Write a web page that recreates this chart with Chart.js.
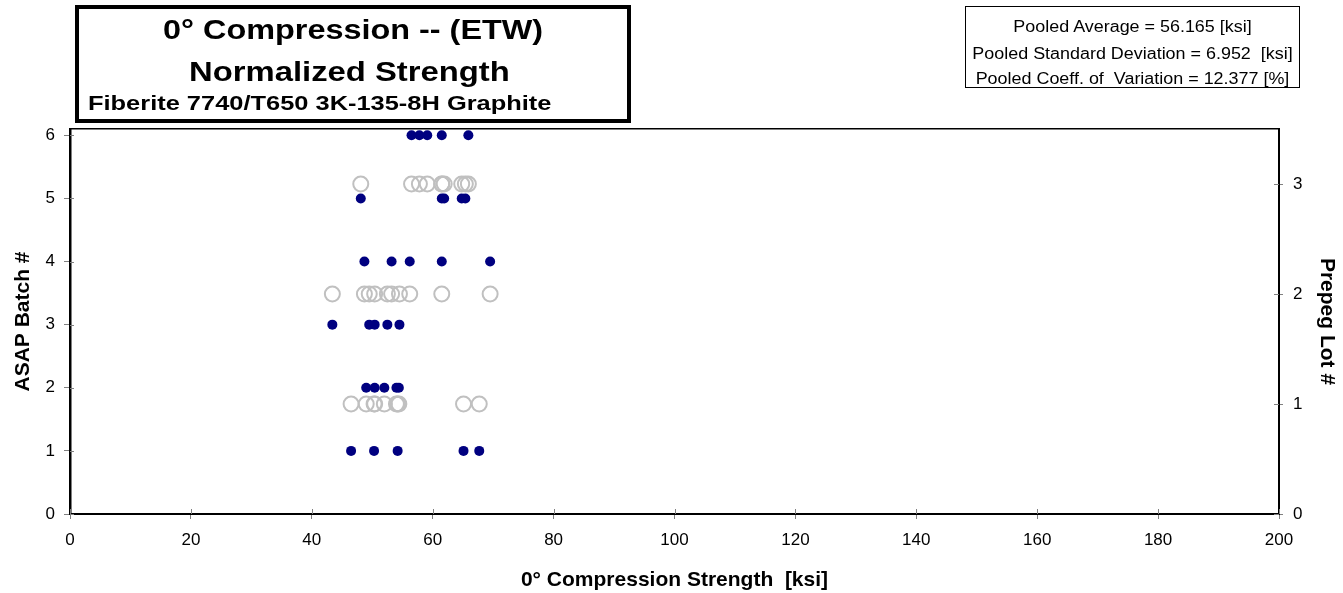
<!DOCTYPE html>
<html lang="en">
  <head>
    <meta charset="UTF-8" />
    <title>0° Compression -- (ETW) Normalized Strength</title>
    <style>
      body {
        margin: 0;
        font-family: "Liberation Sans", Arial, sans-serif;
        background: #fff;
      }

      .wrap {
        position: relative;
        width: 1343px;
        height: 593px;
        overflow: hidden;
      }

      canvas {
        position: absolute;
        left: 0;
        top: 0;
      }

      .box {
        position: absolute;
        box-sizing: border-box;
        border: 1px solid #000;
      }

      .title-box {
        left: 75px;
        top: 5px;
        width: 556px;
        height: 118px;
        border-width: 4px;
      }

      .stats-box {
        left: 965px;
        top: 6px;
        width: 335px;
        height: 82px;
      }

      .txt {
        position: absolute;
        white-space: pre;
        line-height: 1;
        color: #000;
        transform-origin: 0 0;
      }

      .bold {
        font-weight: bold;
      }

      .stat {
        left: 965px;
        width: 335px;
        text-align: center;
        font-size: 16px;
        transform: scaleX(1.12);
        transform-origin: 50% 0;
      }
    </style>
    <script src="https://cdn.jsdelivr.net/npm/chart.js"></script>
  </head>
  <body>
    <div class="wrap">
      <canvas id="strengthChart" width="1343" height="593"></canvas>
      <div class="box title-box"></div>
      <div class="txt bold" style="left: 163px; top: 17px; font-size: 27px; transform: scaleX(1.2)">0° Compression -- (ETW)</div>
      <div class="txt bold" style="left: 189px; top: 59px; font-size: 27px; transform: scaleX(1.215)">Normalized Strength</div>
      <div class="txt bold" style="left: 88px; top: 93px; font-size: 20.5px; transform: scaleX(1.24)">Fiberite 7740/T650 3K-135-8H Graphite</div>

      <div class="box stats-box"></div>
      <div class="txt stat" style="top: 19px">Pooled Average = 56.165 [ksi]</div>
      <div class="txt stat" style="top: 46px">Pooled Standard Deviation = 6.952  [ksi]</div>
      <div class="txt stat" style="top: 71px">Pooled Coeff. of  Variation = 12.377 [%]</div>
    </div>

    <script>
      // strengths [ksi] per ASAP batch
      const batch1 = [46.5, 50.3, 54.2, 65.1, 67.7];
      const batch2 = [49.0, 50.4, 52.0, 54.0, 54.4];
      const batch3 = [43.4, 49.5, 50.4, 52.5, 54.5];
      const batch4 = [48.7, 53.2, 56.2, 61.5, 69.5];
      const batch5 = [48.1, 61.5, 61.9, 64.8, 65.4];
      const batch6 = [56.5, 57.8, 59.1, 61.5, 65.9];

      const batches = [batch1, batch2, batch3, batch4, batch5, batch6];
      // prepreg lot -> the batches made from it
      const lotBatches = [
        [1, 2],
        [3, 4],
        [5, 6],
      ];

      const batchTicks = [0, 1, 2, 3, 4, 5, 6];
      const lotTicks = [0, 1, 2, 3];

      const batchPoints = [];
      batches.forEach((vals, i) => {
        vals.forEach((v) => batchPoints.push({ x: v, y: i + 1 }));
      });

      const lotPoints = [];
      lotBatches.forEach((bs, i) => {
        bs.forEach((b) => {
          batches[b - 1].forEach((v) => lotPoints.push({ x: v, y: i + 1 }));
        });
      });

      Chart.defaults.font.family = "'Liberation Sans', Arial, sans-serif";
      Chart.defaults.font.size = 17;
      Chart.defaults.color = "#000";

      const tickColor = "#808080";
      const axisTitleFont = { size: 21, weight: "bold" };

      // tick marks that also poke into the plot area, like the original
      const innerTicks = {
        id: "innerTicks",
        afterDraw(chart) {
          const ctx = chart.ctx;
          const area = chart.chartArea;
          const { x, y, y2 } = chart.scales;
          ctx.save();
          ctx.strokeStyle = tickColor;
          ctx.lineWidth = 1;
          ctx.beginPath();
          x.ticks.forEach((t) => {
            const px = Math.round(x.getPixelForValue(t.value)) + 0.5;
            ctx.moveTo(px, area.bottom);
            ctx.lineTo(px, area.bottom - 5);
          });
          y.ticks.forEach((t) => {
            const py = Math.round(y.getPixelForValue(t.value)) + 0.5;
            ctx.moveTo(area.left, py);
            ctx.lineTo(area.left + 4, py);
          });
          y2.ticks.forEach((t) => {
            const py = Math.round(y2.getPixelForValue(t.value)) + 0.5;
            ctx.moveTo(area.right, py);
            ctx.lineTo(area.right - 5, py);
          });
          ctx.stroke();
          ctx.restore();
        },
      };

      new Chart(document.getElementById("strengthChart").getContext("2d"), {
        type: "scatter",
        data: {
          datasets: [
            {
              label: "ASAP Batch",
              data: batchPoints,
              yAxisID: "y",
              pointRadius: 5,
              pointBorderWidth: 0,
              borderColor: "#000080",
              backgroundColor: "#000080",
              pointHoverRadius: 5,
            },
            {
              label: "Prepreg Lot",
              data: lotPoints,
              yAxisID: "y2",
              pointRadius: 7.5,
              pointBorderWidth: 2,
              borderColor: "#c0c0c0",
              backgroundColor: "rgba(255,255,255,0)",
              pointHoverRadius: 7.5,
            },
          ],
        },
        options: {
          responsive: false,
          animation: false,
          layout: { padding: { top: 129, left: 0, right: 0, bottom: 0 } },
          plugins: {
            legend: { display: false },
            tooltip: { enabled: false },
          },
          scales: {
            x: {
              type: "linear",
              position: "bottom",
              min: 0,
              max: 200,
              ticks: { stepSize: 20, padding: 11 },
              grid: { drawOnChartArea: false, color: tickColor, tickLength: 5 },
              border: { color: "#000", width: 2 },
              title: {
                display: true,
                text: "0° Compression Strength  [ksi]",
                font: axisTitleFont,
                padding: { top: 3, bottom: 0 },
              },
              afterFit: (s) => {
                s.height = 79;
              },
            },
            x2: {
              type: "linear",
              position: "top",
              min: 0,
              max: 200,
              ticks: { display: false },
              grid: { drawOnChartArea: false, drawTicks: false },
              border: { color: "#000", width: 1.5 },
              afterFit: (s) => {
                s.height = 0;
              },
            },
            y: {
              type: "linear",
              position: "left",
              min: 0,
              max: 6.1,
              afterBuildTicks: (s) => {
                s.ticks = batchTicks.map((v) => ({ value: v }));
              },
              ticks: { padding: 9 },
              grid: { drawOnChartArea: false, color: tickColor, tickLength: 6 },
              border: { color: "#000", width: 2.5 },
              title: {
                display: true,
                text: "ASAP Batch #",
                font: axisTitleFont,
                padding: { top: 11, bottom: 0 },
              },
              afterFit: (s) => {
                s.width = 70;
              },
            },
            y2: {
              type: "linear",
              position: "right",
              min: 0,
              max: 3.5,
              afterBuildTicks: (s) => {
                s.ticks = lotTicks.map((v) => ({ value: v }));
              },
              ticks: { padding: 10 },
              grid: { drawOnChartArea: false, color: tickColor, tickLength: 4 },
              border: { color: "#000", width: 2 },
              title: {
                display: true,
                text: "Prepeg Lot #",
                font: axisTitleFont,
                padding: { top: 4, bottom: 0 },
              },
              afterFit: (s) => {
                s.width = 64;
              },
            },
          },
        },
        plugins: [innerTicks],
      });
    </script>
  </body>
</html>
